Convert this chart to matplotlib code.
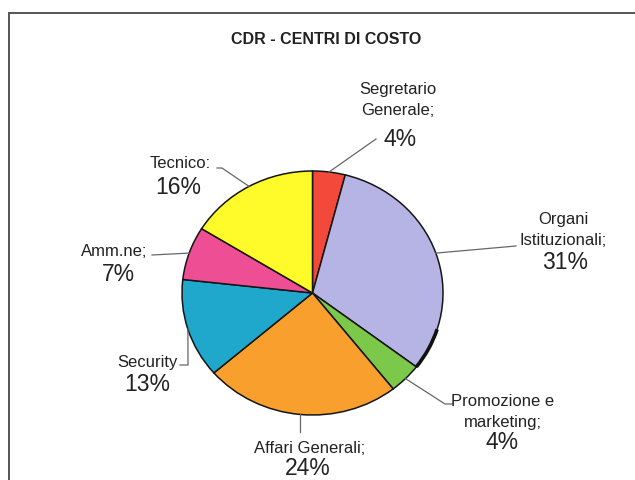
import numpy as np
import matplotlib.pyplot as plt
from matplotlib.lines import Line2D
from matplotlib.patches import Arc

plt.rcParams['font.family'] = ['Liberation Sans', 'DejaVu Sans']

# data
names = ["Segretario\nGenerale;", "Organi\nIstituzionali;", "Promozione e\nmarketing;",
         "Affari Generali;", "Security", "Amm.ne;", "Tecnico:"]
values = [4, 31, 4, 24, 13, 7, 16]
pct_labels = ["4%", "31%", "4%", "24%", "13%", "7%", "16%"]
colors = ["#f2493a", "#b6b4e4", "#7cc84a", "#f99f2e", "#20a8cc", "#ee4f94", "#fffa2a"]

W, H = 635, 481
fig = plt.figure(figsize=(W / 100, H / 100), dpi=100)
fig.patch.set_facecolor("white")


def fx(x, y):
    # image pixel (top-left origin) -> figure fraction
    return x / W, 1 - y / H


# scanned frame (top and left edges)
fig.add_artist(Line2D([9 / W, 1.0], [1 - 14 / H, 1 - 14 / H], transform=fig.transFigure,
                      color="#555555", lw=1.4))
fig.add_artist(Line2D([9 / W, 9 / W], [0.0, 1 - 14 / H], transform=fig.transFigure,
                      color="#555555", lw=1.4))

fig.text(*fx(326, 39), "CDR - CENTRI DI COSTO", ha="center", va="center",
         fontsize=11.5, fontweight="bold", color="#222222")

# pie is slightly squashed in the scan, so use an axes with its own box
ax = fig.add_axes([182 / W, 1 - 416 / H, 261 / W, 244 / H])
wedges, _ = ax.pie(values, colors=colors, startangle=90, counterclock=False,
                   wedgeprops=dict(edgecolor="#151515", linewidth=1.1))
ax.set_aspect("auto")
ax.set_xlim(-1, 1)
ax.set_ylim(-1, 1)
ax.axis("off")
for w in wedges:
    w.set_clip_on(False)

# dark rim on lower right of the big slice
org = wedges[1]
ax.add_patch(Arc((0, 0), 2, 2, theta1=org.theta1, theta2=org.theta1 + 20,
                 color="#111111", lw=2.6, clip_on=False))

# label layout: name centre, name y, percent y, leader path end points (pixels)
name_xy = [(398, 100), (563, 230), (503, 412), (310, 449), (147, 362), (114, 252), (180, 163)]
pct_xy = [(400, 140), (565, 263), (502, 443), (308, 469), (147, 385), (118, 275), (178, 188)]
leader_end = [[(376, 140)], [(516, 247)], [(445, 405), (452, 405)], [(None, 433)],
              [(188, 366), (180, 366)], [(152, 256)], [(222, 169), (217, 169)]]

fig.canvas.draw()
to_px = ax.transData
for i, w in enumerate(wedges):
    mid = np.deg2rad((w.theta1 + w.theta2) / 2)
    ex, ey = to_px.transform((np.cos(mid), np.sin(mid)))
    ey = H - ey
    pts = [(ex, ey)]
    for (x, y) in leader_end[i]:
        if x is None:
            x = ex
        if i == 4 and len(pts) == 1:
            pts.append((ex, ey + 3))
        pts.append((x, y))
    xs = [p[0] / W for p in pts]
    ys = [1 - p[1] / H for p in pts]
    fig.add_artist(Line2D(xs, ys, transform=fig.transFigure, color="#666666", lw=0.9))

    fig.text(*fx(*name_xy[i]), names[i], ha="center", va="center", fontsize=12,
             color="#222222", linespacing=1.45)
    fig.text(*fx(*pct_xy[i]), pct_labels[i], ha="center", va="center", fontsize=16.5,
             color="#222222")

fig.savefig("out.png", dpi=100, facecolor="white")
